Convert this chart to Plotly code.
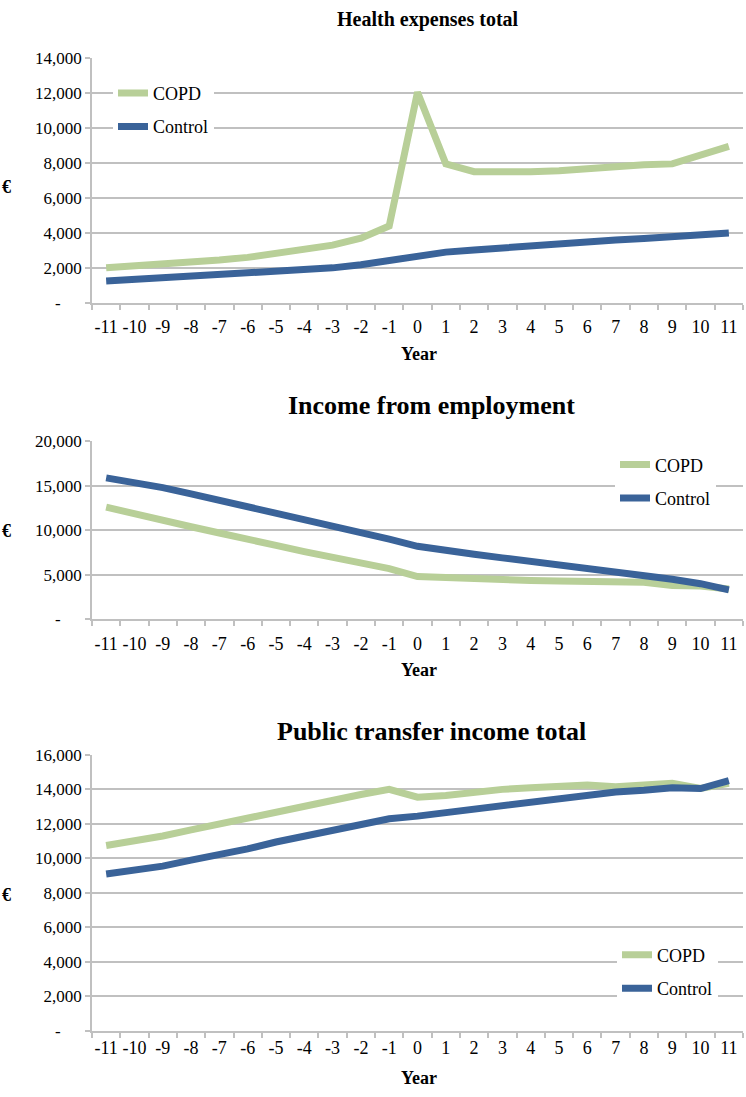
import plotly.graph_objects as go

years = [str(y) for y in range(-11, 12)]

# Health expenses total
health_copd = [2000, 2100, 2150, 2300, 2450, 2600, 2800, 3050, 3300, 3700, 4400, 12050,
               7950, 7500, 7480, 7500, 7550, 7700, 7750, 7900, 7950, 8400, 8950]
health_control = [1250, 1350, 1420, 1500, 1580, 1680, 1780, 1870, 2000, 2180, 2400, 2700,
                  2900, 3020, 3150, 3250, 3350, 3450, 3600, 3680, 3800, 3850, 4000]

# Income from employment
emp_copd = [12600, 11800, 11100, 10400, 9700, 8900, 8300, 7600, 7000, 6300, 5700, 4800,
            4650, 4500, 4400, 4350, 4300, 4250, 4250, 4150, 3800, 3750, 3400]
emp_control = [15900, 15400, 14800, 14100, 13400, 12600, 11900, 11200, 10500, 9800, 9000, 8200,
               7700, 7300, 6900, 6500, 6100, 5800, 5400, 5000, 4500, 4000, 3300]

# Public transfer income total
pub_copd = [10750, 11000, 11300, 11650, 12000, 12400, 12750, 13100, 13350, 13700, 14000, 13550,
            13650, 13850, 14000, 14100, 14200, 14250, 14150, 14250, 14350, 14050, 14350]
pub_control = [9100, 9300, 9550, 9900, 10200, 10550, 10950, 11300, 11650, 12000, 12300, 12450,
               12650, 12900, 13100, 13300, 13500, 13700, 13850, 13950, 14100, 14050, 14500]

titles = ["Health expenses total", "Income from employment", "Public transfer income total"]
y_ticks = [list(range(0, 14001, 2000)), list(range(0, 20001, 5000)), list(range(0, 16001, 2000))]

COPD_COLOR = "#B8CF98"
CTRL_COLOR = "#3A6399"
GRID = "#C0C0C0"
FONT = "Liberation Serif, Times New Roman, DejaVu Serif, serif"

W, H = 746, 1097

def py(px):
    return 1 - px / H

def pxx(px):
    return px / W

fig = go.Figure()

series = [(health_copd, health_control), (emp_copd, emp_control), (pub_copd, pub_control)]
legend_names = ["legend", "legend2", "legend3"]
for i, (c, k) in enumerate(series):
    sfx = "" if i == 0 else str(i + 1)
    fig.add_trace(go.Scatter(x=years, y=c, mode="lines", name="COPD",
                             line=dict(color=COPD_COLOR, width=7),
                             xaxis="x" + sfx, yaxis="y" + sfx,
                             legend=legend_names[i], legendgroup=f"c{i}"))
    fig.add_trace(go.Scatter(x=years, y=k, mode="lines", name="Control",
                             line=dict(color=CTRL_COLOR, width=7),
                             xaxis="x" + sfx, yaxis="y" + sfx,
                             legend=legend_names[i], legendgroup=f"k{i}"))

# plot areas (pixel tops/bottoms)
areas = [(50, 299), (440, 621), (759, 1040)]
label_standoff = [7, 7, 0]
x_dom = [pxx(92), pxx(743)]

layout = dict(
    width=W, height=H,
    margin=dict(l=0, r=0, t=0, b=0),
    paper_bgcolor="white", plot_bgcolor="white",
    font=dict(family=FONT, color="black"),
    showlegend=True,
)

for i in range(3):
    sfx = "" if i == 0 else str(i + 1)
    top, bot = areas[i]
    tv = y_ticks[i]
    tt = ["-" + "\u00a0" * 5 if v == 0 else f"{v:,}" for v in tv]
    layout["xaxis" + sfx] = dict(
        domain=x_dom, anchor="y" + sfx, type="category",
        categoryorder="array", categoryarray=years,
        range=[-0.5, 22.5], showgrid=False, zeroline=False,
        showline=True, linecolor=GRID, linewidth=1.5,
        ticks="outside", tickson="boundaries", ticklen=5, tickcolor=GRID, tickwidth=1.5,
        tickangle=0,
        tickfont=dict(family=FONT, size=18, color="black"),
        ticklabelstandoff=label_standoff[i],
        fixedrange=True,
    )
    layout["yaxis" + sfx] = dict(
        domain=[py(bot), py(top)], anchor="x" + sfx,
        range=[0, tv[-1]], tickvals=tv, ticktext=tt,
        showgrid=True, gridcolor=GRID, gridwidth=1.5, zeroline=False,
        showline=True, linecolor=GRID, linewidth=1.5,
        ticks="outside", ticklen=5, tickcolor=GRID, tickwidth=1.5,
        tickfont=dict(family=FONT, size=17, color="black"),
        fixedrange=True,
    )

legend_common = dict(bgcolor="white", borderwidth=0, traceorder="grouped",
                     tracegroupgap=7, font=dict(family=FONT, size=18, color="black"),
                     xanchor="left", yanchor="top")
layout["legend"] = dict(x=pxx(113), y=py(67), **legend_common)
layout["legend2"] = dict(x=pxx(615), y=py(445), **legend_common)
layout["legend3"] = dict(x=pxx(617), y=py(944), **legend_common)

fig.update_layout(**layout)

anns = []
title_pos = [(428, 11, 20), (431, 403, 26), (431, 735, 26)]
for i, (tx, ty, fs) in enumerate(title_pos):
    anns.append(dict(text=f"<b>{titles[i]}</b>", x=pxx(tx), y=py(ty), xref="paper", yref="paper",
                     xanchor="center", yanchor="middle", showarrow=False,
                     font=dict(family=FONT, size=fs, color="black")))
year_y = [351, 673, 1088]
for ty in year_y:
    anns.append(dict(text="<b>Year</b>", x=pxx(419), y=py(ty), xref="paper", yref="paper",
                     xanchor="center", yanchor="middle", showarrow=False,
                     font=dict(family=FONT, size=18, color="black")))
euro_y = [181, 531, 902]
for ty in euro_y:
    anns.append(dict(text="<b>€</b>", x=pxx(7), y=py(ty), xref="paper", yref="paper",
                     xanchor="center", yanchor="middle", showarrow=False,
                     font=dict(family=FONT, size=18, color="black")))
fig.update_layout(annotations=anns)

fig.write_html("out.html", config={"displayModeBar": False},
               post_script="document.body.style.margin='0';document.body.style.overflow='hidden';")
